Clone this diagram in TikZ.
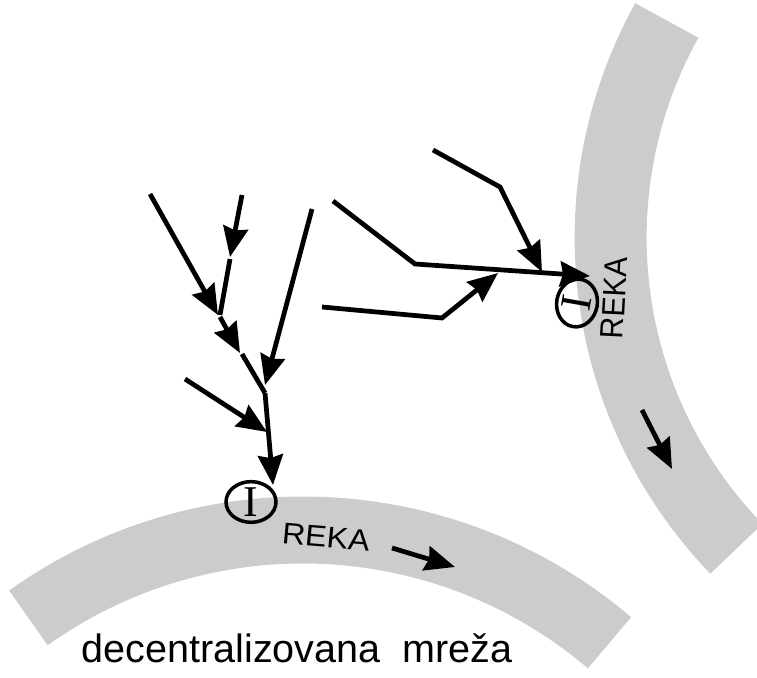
\documentclass[tikz,border=0pt]{standalone}
\usepackage{fontspec}
\setmainfont{Liberation Sans}
\newfontfamily\serifI{Liberation Serif}
\usetikzlibrary{arrows.meta, shapes.geometric}
\definecolor{rekagray}{gray}{0.8}

\begin{document}
\begin{tikzpicture}[x=0.02cm, y=0.02cm,
    reka/.style={draw=rekagray, line cap=butt},
    tok/.style={line width=2.7pt, -{Stealth[length=0.6cm, width=0.5cm, inset=0.06cm]}},
    linija/.style={line width=2.7pt},
    izvor/.style={ellipse, draw, line width=2pt, minimum width=1cm, minimum height=0.8cm,
      inner sep=0pt, font=\serifI\fontsize{25}{25}\selectfont},
    natpis/.style={font=\fontsize{17}{20}\selectfont, xscale=1.08, inner sep=0pt}]
  \useasboundingbox (0,0) rectangle (757,678);

  % reke
  \begin{scope}
    \clip (0,0) rectangle (757,678);
    \draw[reka, line width=1.34cm] (28.4,60.1) arc[start angle=125.5, end angle=49.6, radius=9.46cm];
    \draw[reka, line width=1.44cm] (666.8,657.5) arc[start angle=151, end angle=224, radius=8.96cm];
  \end{scope}

  % izvori
  \node[izvor] (i1) at (251,176) {I};
  \node[izvor, rotate=80, minimum width=0.96cm, minimum height=0.68cm] (i2) at (577,375) {I};

  \node[natpis, rotate=-5] (r1) at (326,141) {REKA};
  \node[natpis, rotate=87] (r2) at (614,380) {REKA};
  \node[anchor=base, font=\fontsize{22.5}{26}\selectfont] (naslov) at (297,15) {decentralizovana~~mreža};

  % prva mreza
  \coordinate (a1) at (150,484);
  \coordinate (a2) at (218,363);
  \coordinate (b1) at (242,483);
  \coordinate (b2) at (230,421);
  \coordinate (b3) at (230,419);
  \coordinate (b4) at (220,363);
  \coordinate (c1) at (220,361);
  \coordinate (c2) at (240,325);
  \coordinate (c3) at (242,324);
  \coordinate (c4) at (265,285);
  \coordinate (d1) at (312,469);
  \coordinate (d2) at (265,293);
  \coordinate (e1) at (185,299);
  \coordinate (e2) at (267,246);
  \coordinate (s1) at (273,193);

  \draw[tok] (a1) -- (a2);
  \draw[tok] (b1) -- (b2);
  \draw[linija] (b3) -- (b4);
  \draw[tok] (c1) -- (c2);
  \draw[linija] (c3) -- (c4);
  \draw[tok] (d1) -- (d2);
  \draw[tok] (e1) -- (e2);
  \draw[tok] (c4) -- (s1);

  % druga mreza
  \coordinate (f1) at (333,477);
  \coordinate (f2) at (415,414);
  \coordinate (f3) at (590,402);
  \coordinate (g1) at (433,528);
  \coordinate (g2) at (500,491);
  \coordinate (g3) at (542,406);
  \coordinate (h1) at (322,371);
  \coordinate (h2) at (442,360);
  \coordinate (h3) at (498,405);

  \draw[tok] (f1) -- (f2) -- (f3);
  \draw[tok] (g1) -- (g2) -- (g3);
  \draw[tok] (h1) -- (h2) -- (h3);

  % smer toka
  \coordinate (t1) at (392,130);
  \coordinate (t2) at (455,111);
  \coordinate (u1) at (642,268);
  \coordinate (u2) at (672,209);
  \draw[tok] (t1) -- (t2);
  \draw[tok] (u1) -- (u2);
\end{tikzpicture}
\end{document}
